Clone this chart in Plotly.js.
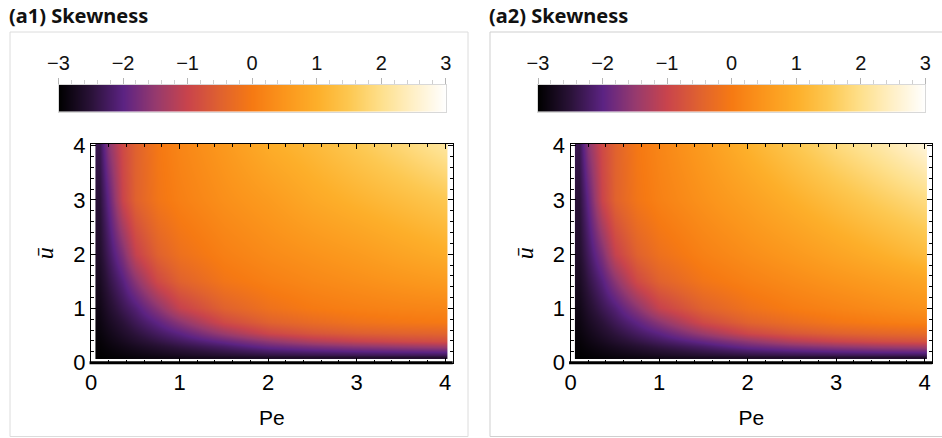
<!DOCTYPE html>
<html>
<head>
<meta charset="utf-8">
<script src="https://cdn.plot.ly/plotly-3.0.1.min.js"></script>
<style>
  html, body { margin: 0; padding: 0; background: #ffffff; }
  #chart { width: 942px; height: 438px; }
</style>
</head>
<body>
<div id="chart"></div>
<script>
// ---------------- data ----------------
var pe = [0.1, 0.2, 0.35, 0.5, 0.75, 1.0, 1.5, 2.0, 2.5, 3.0, 3.5, 3.95, 4.0];
var ubar = [0.1, 0.15, 0.2, 0.3, 0.4, 0.55, 0.75, 1.0, 1.5, 2.0, 3.0, 4.0];

// (a1) skewness, rows follow ubar, columns follow pe
var skewA1 = [
  [-3.0, -2.97, -2.94, -2.9, -2.85, -2.8, -2.72, -2.65, -2.62, -2.6, -2.58, -2.57, -2.57],
  [-2.98, -2.95, -2.9, -2.85, -2.78, -2.7, -2.56, -2.45, -2.38, -2.33, -2.3, -2.28, -2.28],
  [-2.97, -2.93, -2.86, -2.8, -2.7, -2.6, -2.42, -2.25, -2.15, -2.08, -2.03, -2.0, -2.0],
  [-2.95, -2.88, -2.79, -2.7, -2.56, -2.42, -2.18, -1.88, -1.7, -1.56, -1.46, -1.38, -1.37],
  [-2.93, -2.84, -2.72, -2.6, -2.42, -2.25, -1.92, -1.55, -1.25, -1.05, -0.92, -0.84, -0.84],
  [-2.89, -2.78, -2.62, -2.47, -2.23, -2.0, -1.45, -0.95, -0.7, -0.55, -0.48, -0.45, -0.44],
  [-2.85, -2.7, -2.5, -2.3, -1.98, -1.6, -0.9, -0.5, -0.3, -0.15, -0.07, -0.02, -0.01],
  [-2.8, -2.6, -2.33, -2.1, -1.6, -1.05, -0.5, -0.18, 0.0, 0.1, 0.17, 0.21, 0.22],
  [-2.7, -2.42, -2.05, -1.6, -0.9, -0.5, -0.1, 0.1, 0.25, 0.37, 0.49, 0.59, 0.6],
  [-2.6, -2.25, -1.7, -1.05, -0.5, -0.2, 0.1, 0.3, 0.45, 0.6, 0.78, 0.93, 0.95],
  [-2.5, -1.95, -1.0, -0.5, -0.1, 0.1, 0.38, 0.6, 0.87, 1.08, 1.28, 1.47, 1.5],
  [-2.35, -1.6, -0.9, -0.5, -0.05, 0.2, 0.55, 0.95, 1.2, 1.5, 1.8, 2.1, 2.15]
];

// (a2) skewness, rows follow ubar, columns follow pe
var skewA2 = [
  [-3.0, -2.97, -2.94, -2.9, -2.85, -2.8, -2.72, -2.65, -2.62, -2.6, -2.58, -2.57, -2.57],
  [-2.98, -2.95, -2.9, -2.85, -2.78, -2.7, -2.56, -2.45, -2.38, -2.33, -2.3, -2.28, -2.28],
  [-2.97, -2.93, -2.86, -2.8, -2.7, -2.6, -2.42, -2.25, -2.14, -2.06, -2.0, -1.97, -1.97],
  [-2.95, -2.88, -2.79, -2.7, -2.56, -2.42, -2.18, -1.87, -1.67, -1.52, -1.4, -1.32, -1.31],
  [-2.93, -2.84, -2.72, -2.6, -2.42, -2.25, -1.92, -1.55, -1.22, -1.0, -0.86, -0.78, -0.77],
  [-2.89, -2.78, -2.62, -2.47, -2.23, -2.0, -1.45, -0.94, -0.67, -0.5, -0.4, -0.34, -0.33],
  [-2.85, -2.7, -2.5, -2.3, -1.98, -1.6, -0.9, -0.48, -0.26, -0.08, 0.03, 0.11, 0.12],
  [-2.8, -2.6, -2.33, -2.1, -1.6, -1.05, -0.5, -0.17, 0.03, 0.17, 0.3, 0.41, 0.42],
  [-2.7, -2.42, -2.05, -1.6, -0.9, -0.5, -0.1, 0.12, 0.3, 0.47, 0.63, 0.78, 0.8],
  [-2.6, -2.25, -1.7, -1.05, -0.5, -0.2, 0.12, 0.35, 0.55, 0.78, 1.0, 1.22, 1.25],
  [-2.5, -1.95, -1.0, -0.5, -0.1, 0.12, 0.42, 0.7, 1.0, 1.3, 1.6, 1.86, 1.9],
  [-2.35, -1.6, -0.9, -0.5, -0.05, 0.2, 0.6, 1.05, 1.45, 1.85, 2.2, 2.58, 2.65]
];

var barLevels = [-3, 3];                 // ends of the colour legend
var barTicks = [-3, -2, -1, 0, 1, 2, 3]; // colour legend tick labels
var axisTicks = [0, 1, 2, 3, 4];         // Pe and ubar tick labels
var panelTitles = ['(a1) Skewness', '(a2) Skewness'];

// ---------------- styling ----------------
var sunset = [
  [0.000, '#000000'],
  [0.083, '#2a1238'],
  [0.167, '#5c2383'],
  [0.250, '#963a6e'],
  [0.333, '#c9444c'],
  [0.417, '#e0622f'],
  [0.500, '#f67a13'],
  [0.583, '#fb961c'],
  [0.667, '#fdaf2a'],
  [0.750, '#fdc851'],
  [0.833, '#fee08c'],
  [0.917, '#fff0c8'],
  [1.000, '#ffffff']
];

var W = 942, H = 438;
function px(x) { return x / W; }
function py(y) { return (H - y) / H; }

var shift = 479.5;
var tickFont = {family: 'Liberation Sans, Arial, sans-serif', size: 22, color: '#000'};

function mainX(dom) {
  return {
    domain: dom, range: [0, 4.087], anchor: null,
    tickvals: axisTicks, ticks: 'inside', ticklen: 5, tickwidth: 1, tickcolor: '#000',
    minor: {dtick: 0.2, ticks: 'inside', ticklen: 3, tickwidth: 1, tickcolor: '#000', showgrid: false},
    showline: true, linecolor: '#000', linewidth: 1, mirror: 'allticks',
    showgrid: false, zeroline: false, tickfont: tickFont,
    title: {text: 'Pe', font: {family: 'Liberation Sans, Arial, sans-serif', size: 21, color: '#000'}, standoff: 16},
    fixedrange: true
  };
}
function mainY(dom) {
  return {
    domain: dom, range: [0, 4.03],
    tickvals: axisTicks, ticks: 'inside', ticklen: 5, tickwidth: 1, tickcolor: '#000',
    minor: {dtick: 0.2, ticks: 'inside', ticklen: 3, tickwidth: 1, tickcolor: '#000', showgrid: false},
    showline: true, linecolor: '#000', linewidth: 1, mirror: 'allticks',
    showgrid: false, zeroline: false, tickfont: tickFont,
    title: {text: '<i>ū</i>', font: {family: 'Liberation Serif, serif', size: 24, color: '#000'}, standoff: 12},
    fixedrange: true
  };
}
function barX(dom) {
  return {
    domain: dom, range: [-3, 3], side: 'top',
    tickvals: barTicks, ticks: 'outside', ticklen: 6, tickwidth: 1, tickcolor: '#b5b5b5',
    minor: {dtick: 0.2, ticks: 'outside', ticklen: 4, tickwidth: 1, tickcolor: '#cfcfcf', showgrid: false},
    showline: true, linecolor: '#d8d8d8', linewidth: 1, mirror: true,
    showgrid: false, zeroline: false,
    tickfont: {family: 'Liberation Sans, Arial, sans-serif', size: 20, color: '#111'},
    fixedrange: true
  };
}
function barY(dom) {
  return {
    domain: dom, range: [-0.5, 0.5], showticklabels: false, ticks: '',
    showline: true, linecolor: '#d8d8d8', linewidth: 1, mirror: true,
    showgrid: false, zeroline: false, fixedrange: true
  };
}

var plotXd1 = [px(91), px(452.7)];
var plotXd2 = [px(91 + shift), px(452.7 + shift)];
var plotYd = [py(362.7), py(144)];
var barXd1 = [px(58.5), px(445.8)];
var barXd2 = [px(58.5 + shift), px(445.8 + shift)];
var barYd = [py(111.5), py(85)];

var common = {type: 'heatmap', colorscale: sunset, zmin: -3, zmax: 3, zsmooth: 'best', showscale: false, hoverinfo: 'skip'};

var traces = [
  Object.assign({}, common, {x: pe, y: ubar, z: skewA1, xaxis: 'x', yaxis: 'y'}),
  Object.assign({}, common, {x: pe, y: ubar, z: skewA2, xaxis: 'x2', yaxis: 'y2'}),
  Object.assign({}, common, {x: barLevels, y: [0], z: [barLevels], xaxis: 'x3', yaxis: 'y3'}),
  Object.assign({}, common, {x: barLevels, y: [0], z: [barLevels], xaxis: 'x4', yaxis: 'y4'})
];

var xa1 = mainX(plotXd1); xa1.anchor = 'y';
var xa2 = mainX(plotXd2); xa2.anchor = 'y2';
var ya1 = mainY(plotYd); ya1.anchor = 'x';
var ya2 = mainY(plotYd); ya2.anchor = 'x2';
var xb1 = barX(barXd1); xb1.anchor = 'y3';
var xb2 = barX(barXd2); xb2.anchor = 'y4';
var yb1 = barY(barYd); yb1.anchor = 'x3';
var yb2 = barY(barYd); yb2.anchor = 'x4';

var layout = {
  width: W, height: H,
  margin: {l: 0, r: 0, t: 0, b: 0},
  paper_bgcolor: '#ffffff', plot_bgcolor: '#ffffff',
  showlegend: false,
  xaxis: xa1, yaxis: ya1,
  xaxis2: xa2, yaxis2: ya2,
  xaxis3: xb1, yaxis3: yb1,
  xaxis4: xb2, yaxis4: yb2,
  shapes: [
    {type: 'rect', xref: 'paper', yref: 'paper', x0: px(10), x1: px(468), y0: py(436.5), y1: py(32),
     line: {color: '#dcdcdc', width: 1}, layer: 'below'},
    {type: 'rect', xref: 'paper', yref: 'paper', x0: px(490), x1: px(960), y0: py(436.5), y1: py(32),
     line: {color: '#cfcfcf', width: 1}, layer: 'below'},
    {type: 'line', xref: 'x domain', yref: 'y domain', x0: -0.004, x1: 1, y0: 0, y1: 0,
     line: {color: '#000', width: 3}, layer: 'above'},
    {type: 'line', xref: 'x2 domain', yref: 'y2 domain', x0: -0.004, x1: 1, y0: 0, y1: 0,
     line: {color: '#000', width: 3}, layer: 'above'}
  ],
  annotations: [
    {text: '<b>' + panelTitles[0] + '</b>', xref: 'paper', yref: 'paper', x: px(7), y: py(15),
     xanchor: 'left', yanchor: 'middle', showarrow: false,
     font: {family: 'Noto Sans, Open Sans, sans-serif', size: 20, color: '#111'}},
    {text: '<b>' + panelTitles[1] + '</b>', xref: 'paper', yref: 'paper', x: px(7 + shift), y: py(15),
     xanchor: 'left', yanchor: 'middle', showarrow: false,
     font: {family: 'Noto Sans, Open Sans, sans-serif', size: 20, color: '#111'}}
  ]
};

Plotly.newPlot('chart', traces, layout, {displayModeBar: false, staticPlot: true});
</script>
</body>
</html>
